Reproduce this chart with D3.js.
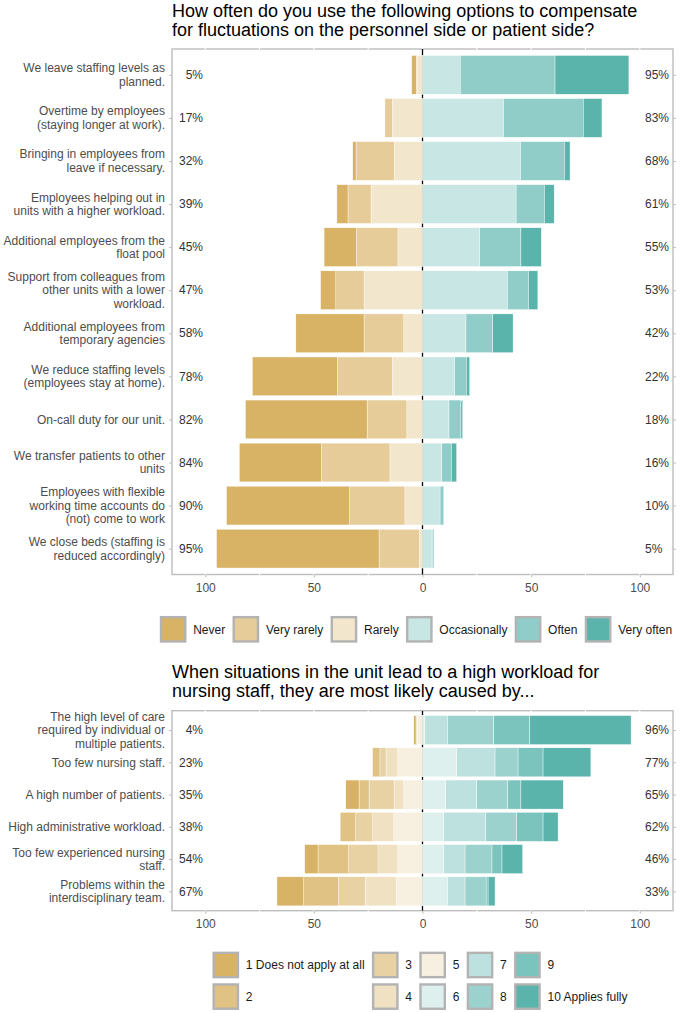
<!DOCTYPE html>
<html>
<head>
<meta charset="utf-8">
<title>likert</title>
<style>
  body { margin: 0; background: #fff; }
  svg { font-family: "Liberation Sans", Arial, sans-serif; }
  .title { font-size: 18px; fill: #000; }
  .cat { font-size: 12px; fill: #4d4d4d; }
  .pct { font-size: 12px; fill: #333; }
  .axis text { font-size: 12px; fill: #4d4d4d; }
  .axis line { stroke: #bdbdbd; }
  .leg { font-size: 12px; fill: #1a1a1a; }
</style>
</head>
<body>
<div id="chart"></div>
<script src="https://d3js.org/d3.v7.min.js"></script>
<script>
// ---- panel 1: compensation options ----
var topTitle = ["How often do you use the following options to compensate",
                "for fluctuations on the personnel side or patient side?"];
var topItems = [
  ["We leave staffing levels as", "planned."],
  ["Overtime by employees", "(staying longer at work)."],
  ["Bringing in employees from", "leave if necessary."],
  ["Employees helping out in", "units with a higher workload."],
  ["Additional employees from the", "float pool"],
  ["Support from colleagues from", "other units with a lower", "workload."],
  ["Additional employees from", "temporary agencies"],
  ["We reduce staffing levels", "(employees stay at home)."],
  ["On-call duty for our unit."],
  ["We transfer patients to other", "units"],
  ["Employees with flexible", "working time accounts do", "(not) come to work"],
  ["We close beds (staffing is", "reduced accordingly)"]
];
var topLevels = ["Never", "Very rarely", "Rarely", "Occasionally", "Often", "Very often"];
var topNever        = [2.1, 0,    1.5,  5.1, 14.9,  7.0, 31.4, 39.2, 56.0, 37.8, 56.6, 74.8];
var topVeryRarely   = [0.6, 3.4, 17.6, 10.6, 19.1, 13.0, 18.3, 25.2, 18.3, 31.5, 25.5, 18.5];
var topRarely       = [2.3, 13.9, 13.0, 23.7, 11.3, 26.9,  8.6, 13.9,  7.2, 15.0,  8.1,  1.5];
var topOccasionally = [17.4, 37.3, 45.1, 43.1, 26.3, 39.1, 20.0, 14.8, 12.2, 8.9, 8.1, 4.4];
var topOften        = [43.6, 36.7, 20.2, 13.0, 19.0,  9.7, 12.3,  5.4,  5.5, 4.4, 1.7, 0.3];
var topVeryOften    = [34.0,  8.6,  2.6,  4.5,  9.4,  4.3,  9.4,  1.5,  0.8, 2.4, 0,   0.5];
var topLowPct  = [5, 17, 32, 39, 45, 47, 58, 78, 82, 84, 90, 95];
var topHighPct = [95, 83, 68, 61, 55, 53, 42, 22, 18, 16, 10, 5];
var topColors = ["#d8b365", "#e5cc98", "#f2e6cc", "#c8e6e3", "#91cdc8", "#5ab4ac"];

// ---- panel 2: causes of high workload ----
var botTitle = ["When situations in the unit lead to a high workload for",
                "nursing staff, they are most likely caused by..."];
var botItems = [
  ["The high level of care", "required by individual or", "multiple patients."],
  ["Too few nursing staff."],
  ["A high number of patients."],
  ["High administrative workload."],
  ["Too few experienced nursing", "staff."],
  ["Problems within the", "interdisciplinary team."]
];
var botLevels = ["1 Does not apply at all", "2", "3", "4", "5", "6", "7", "8", "9", "10 Applies fully"];
var bot1  = [1.0,  0,    6.1,  0,    6.1, 12.3];
var bot2  = [0.3,  3.4,  4.6,  7.2, 14.1, 16.0];
var bot3  = [0,    2.8, 11.5,  7.8, 13.5, 12.3];
var bot4  = [0.4,  5.4,  4.4,  9.7,  9.1, 14.3];
var bot5  = [2.3, 11.4,  8.7, 13.2, 11.4, 12.1];
var bot6  = [1.1, 15.8, 10.7,  9.8,  9.8, 11.5];
var bot7  = [10.4, 17.6, 14.3, 19.3, 9.8,  8.1];
var bot8  = [21.3, 10.6, 14.3, 14.3, 12.4, 9.7];
var bot9  = [16.6, 11.5,  6.0, 12.1,  4.6, 0.9];
var bot10 = [46.6, 22.0, 19.5,  6.9,  9.5, 3.2];
var botLowPct  = [4, 23, 35, 38, 54, 67];
var botHighPct = [96, 77, 65, 62, 46, 33];
var botColors = ["#d8b365", "#e0c284", "#e8d1a3", "#efe1c1", "#f7f0e0",
                 "#def0ee", "#bde1de", "#9cd2cd", "#7bc3bd", "#5ab4ac"];

var tickVals = [-100, -50, 0, 50, 100];

var width = 680, height = 1013;
var svg = d3.select("#chart").append("svg")
  .attr("width", width).attr("height", height);

var x = d3.scaleLinear().domain([-115.3, 115.3]).range([172, 673]);

function drawTitle(lines, y0) {
  var t = svg.append("text").attr("class", "title").attr("x", 172).attr("y", y0);
  lines.forEach(function (l, i) {
    t.append("tspan").attr("x", 172).attr("dy", i === 0 ? 0 : 18.6).text(l);
  });
}

function drawPanel(top, bottom, items, lowSeries, highSeries, lowColors, highColors, lowPct, highPct) {
  var n = items.length;
  var y = d3.scaleLinear().domain([0.4, n + 0.6]).range([top, bottom]);
  var bh = y(0.9) - y(0);
  var g = svg.append("g");

  g.append("rect")
    .attr("x", x.range()[0]).attr("y", top)
    .attr("width", x.range()[1] - x.range()[0]).attr("height", bottom - top)
    .attr("fill", "none").attr("stroke", "#bdbdbd").attr("stroke-width", 1.4);

  g.selectAll(".grid").data(d3.range(-100, 101, 25)).join("line")
    .attr("x1", d => x(d)).attr("x2", d => x(d))
    .attr("y1", top - 1).attr("y2", bottom + 1)
    .attr("stroke", "#fff").attr("stroke-width", 1.1);

  // axes
  g.append("g").attr("class", "axis")
    .attr("transform", "translate(0," + bottom + ")")
    .call(d3.axisBottom(x).tickValues(tickVals).tickFormat(d => Math.abs(d)).tickSize(3).tickPadding(6))
    .call(a => a.select(".domain").remove());
  var rows = d3.range(1, n + 1);
  g.append("g").attr("class", "axis")
    .attr("transform", "translate(" + x.range()[0] + ",0)")
    .call(d3.axisLeft(y).tickValues(rows).tickFormat("").tickSize(3))
    .call(a => a.select(".domain").remove());
  g.append("g").attr("class", "axis")
    .attr("transform", "translate(" + x.range()[1] + ",0)")
    .call(d3.axisRight(y).tickValues(rows).tickFormat("").tickSize(3))
    .call(a => a.select(".domain").remove());

  g.append("line")
    .attr("x1", x(0)).attr("x2", x(0)).attr("y1", top).attr("y2", bottom)
    .attr("stroke", "#000").attr("stroke-width", 1.3);

  // stacked segments, built outward from 0
  var segs = [];
  items.forEach(function (item, i) {
    var cum = 0;
    for (var k = lowSeries.length - 1; k >= 0; k--) {
      var v = lowSeries[k][i];
      if (v > 0) segs.push({ row: i + 1, x0: -cum - v, x1: -cum, c: lowColors[k] });
      cum += v;
    }
    cum = 0;
    for (k = 0; k < highSeries.length; k++) {
      v = highSeries[k][i];
      if (v > 0) segs.push({ row: i + 1, x0: cum, x1: cum + v, c: highColors[k] });
      cum += v;
    }
  });
  g.selectAll(".seg").data(segs).join("rect")
    .attr("x", d => x(d.x0)).attr("width", d => x(d.x1) - x(d.x0))
    .attr("y", d => y(d.row) - bh / 2).attr("height", bh)
    .attr("fill", d => d.c).attr("stroke", "#fff").attr("stroke-width", 0.4);

  // category labels
  var lh = 13.5;
  var cat = g.selectAll(".cat").data(items).join("text")
    .attr("class", "cat").attr("text-anchor", "end")
    .attr("x", 165)
    .attr("y", (d, i) => y(i + 1) + 4.2 - (d.length - 1) * lh / 2);
  cat.each(function (d) {
    var t = d3.select(this);
    d.forEach(function (l, j) {
      t.append("tspan").attr("x", 165).attr("dy", j === 0 ? 0 : lh).text(l);
    });
  });

  g.selectAll(".pl").data(lowPct).join("text")
    .attr("class", "pct").attr("text-anchor", "end")
    .attr("x", 203).attr("y", (d, i) => y(i + 1) + 4.2).text(d => d + "%");
  g.selectAll(".ph").data(highPct).join("text")
    .attr("class", "pct").attr("text-anchor", "start")
    .attr("x", 645).attr("y", (d, i) => y(i + 1) + 4.2).text(d => d + "%");
}

function drawLegend(levels, colors, nrow, cy0, center) {
  var box = 24.3, pitch = 31.6;
  var ncol = Math.ceil(levels.length / nrow);
  var g = svg.append("g");
  // measure text widths
  var widths = levels.map(function (l) {
    var t = g.append("text").attr("class", "leg").text(l);
    var w = t.node().getComputedTextLength();
    t.remove();
    return w;
  });
  var colW = [];
  for (var c = 0; c < ncol; c++) {
    var m = 0;
    for (var r = 0; r < nrow; r++) {
      var idx = c * nrow + r;
      if (idx < levels.length) m = Math.max(m, widths[idx]);
    }
    colW.push(box + 2.4 + 6.7 + m + 7.3);
  }
  var total = d3.sum(colW) - 7.3;
  var x0 = center - total / 2;
  var cx = [];
  colW.reduce(function (acc, w) { cx.push(acc); return acc + w; }, x0);
  levels.forEach(function (l, i) {
    var c = Math.floor(i / nrow), r = i % nrow;
    var bx = cx[c] + 1.2, cy = cy0 + r * pitch;
    g.append("rect").attr("x", bx).attr("y", cy - box / 2)
      .attr("width", box).attr("height", box)
      .attr("fill", colors[i]).attr("stroke", "#b3b3b3").attr("stroke-width", 2.4);
    g.append("text").attr("class", "leg")
      .attr("x", cx[c] + box + 2.4 + 6.7).attr("y", cy + 4.2).text(l);
  });
}

drawTitle(topTitle, 17.3);
drawPanel(49, 574.5, topItems,
  [topNever, topVeryRarely, topRarely],
  [topOccasionally, topOften, topVeryOften],
  topColors.slice(0, 3), topColors.slice(3), topLowPct, topHighPct);
drawLegend(topLevels, topColors, 1, 629.3, 416);

drawTitle(botTitle, 678.3);
drawPanel(710.7, 910.7, botItems,
  [bot1, bot2, bot3, bot4, bot5],
  [bot6, bot7, bot8, bot9, bot10],
  botColors.slice(0, 5), botColors.slice(5), botLowPct, botHighPct);
drawLegend(botLevels, botColors, 2, 965, 420);
</script>
</body>
</html>
